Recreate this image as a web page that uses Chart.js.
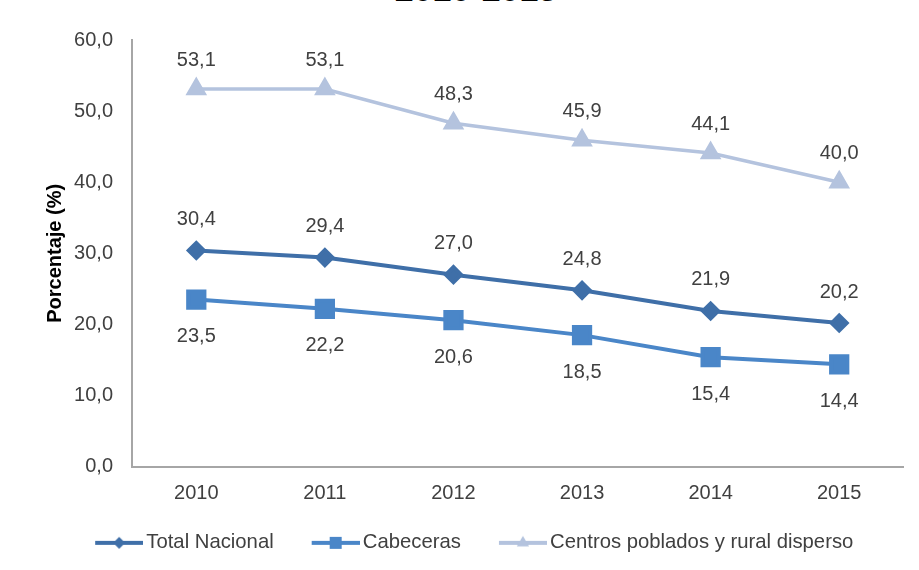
<!DOCTYPE html>
<html>
<head>
<meta charset="utf-8">
<script src="https://cdn.jsdelivr.net/npm/chart.js@4.4.0/dist/chart.umd.min.js"></script>
<style>
html, body { margin: 0; padding: 0; background: #fff; overflow: hidden; }
#wrap { position: relative; width: 919px; height: 570px; overflow: hidden; }
#title { position: absolute; left: 0; width: 952px; top: -28px; text-align: center;
  font: bold 34px "Liberation Sans", Arial, sans-serif; line-height: 34px; color: #000; }
canvas { position: absolute; left: 0; top: 0; }
</style>
</head>
<body>
<div id="wrap">
<div id="title">2010-2015</div>
<canvas id="chart" width="919" height="570"></canvas>
</div>
<script>
// ---------------- DATA ----------------
const years = ["2010", "2011", "2012", "2013", "2014", "2015"];
const totalNacional = [30.4, 29.4, 27.0, 24.8, 21.9, 20.2];
const cabeceras = [23.5, 22.2, 20.6, 18.5, 15.4, 14.4];
const centrosPoblados = [53.1, 53.1, 48.3, 45.9, 44.1, 40.0];

const FONT = "'Liberation Sans', Arial, sans-serif";
const fmt = v => v.toFixed(1).replace(".", ",");

// legend icon: empty space on the left, then a short line with the marker in the middle
const ICON_GAP = 35;
function legendIcon(color, style, r) {
  const c = document.createElement("canvas");
  c.width = ICON_GAP + 48; c.height = 20;
  const g = c.getContext("2d");
  const cx = ICON_GAP + 24;
  g.strokeStyle = color; g.lineWidth = 4;
  g.beginPath(); g.moveTo(ICON_GAP, 10); g.lineTo(ICON_GAP + 48, 10); g.stroke();
  g.fillStyle = color;
  g.beginPath();
  if (style === "rectRot") {
    g.moveTo(cx - r, 10); g.lineTo(cx, 10 - r); g.lineTo(cx + r, 10); g.lineTo(cx, 10 + r);
  } else if (style === "rect") {
    g.rect(cx - r, 10 - r, 2 * r, 2 * r);
  } else {
    g.moveTo(cx, 10 - r); g.lineTo(cx + r * 0.87, 10 + r * 0.5); g.lineTo(cx - r * 0.87, 10 + r * 0.5);
  }
  g.closePath(); g.fill();
  return c;
}

// value labels above / below the points
const valueLabels = {
  id: "valueLabels",
  afterDatasetsDraw(chart) {
    const ctx = chart.ctx;
    ctx.save();
    ctx.font = "20px " + FONT;
    ctx.fillStyle = "#404040";
    ctx.textAlign = "center";
    ctx.textBaseline = "middle";
    chart.data.datasets.forEach((ds, i) => {
      const meta = chart.getDatasetMeta(i);
      meta.data.forEach((pt, j) => {
        ctx.fillText(fmt(ds.data[j]), pt.x, pt.y + ds.labelOffset);
      });
    });
    ctx.restore();
  }
};

const datasets = [
  { label: "Total Nacional", data: totalNacional, borderColor: "#3F6FA8", backgroundColor: "#3F6FA8",
    borderWidth: 4, pointStyle: "rectRot", pointRadius: 7.5, labelOffset: -31,
    icon: legendIcon("#3F6FA8", "rectRot", 6) },
  { label: "Cabeceras", data: cabeceras, borderColor: "#4A86C8", backgroundColor: "#4A86C8",
    borderWidth: 4, pointStyle: "rect", pointRadius: 11.5, labelOffset: 37,
    icon: legendIcon("#4A86C8", "rect", 6) },
  { label: "Centros poblados y rural disperso", data: centrosPoblados, borderColor: "#B4C3DE", backgroundColor: "#B4C3DE",
    borderWidth: 3.5, pointStyle: "triangle", pointRadius: 9, labelOffset: -29,
    icon: legendIcon("#B4C3DE", "triangle", 7) }
];

const chart = new Chart(document.getElementById("chart"), {
  type: "line",
  data: { labels: years, datasets: datasets },
  plugins: [valueLabels],
  options: {
    responsive: false,
    animation: false,
    layout: { padding: { left: 35, right: 11, top: 40, bottom: 7 } },
    plugins: {
      tooltip: { enabled: false },
      legend: {
        position: "bottom",
        labels: {
          usePointStyle: true,
          pointStyleWidth: 69,
          padding: 10,
          color: "#404040",
          font: { family: FONT, size: 20.3 },
          generateLabels(ch) {
            const n = ch.data.datasets.length;
            return ch.data.datasets.map((ds, i) => ({
              text: ds.label + (i === n - 1 ? "    " : ""), pointStyle: ds.icon, fontColor: "#404040",
              datasetIndex: i, lineWidth: 0, strokeStyle: "transparent", fillStyle: "transparent"
            }));
          }
        }
      }
    },
    scales: {
      x: {
        offset: true,
        grid: { display: false, drawTicks: false },
        border: { display: true, color: "#A6A6A6", width: 2 },
        ticks: { color: "#404040", padding: 15, font: { family: FONT, size: 20 } },
        afterFit(s) { s.height = 56; }
      },
      y: {
        min: 0, max: 60,
        grid: { display: false, drawTicks: false },
        border: { display: true, color: "#A6A6A6", width: 2 },
        ticks: { stepSize: 10, color: "#404040", padding: 19, font: { family: FONT, size: 20 },
          callback: v => fmt(v) },
        title: { display: true, text: "Porcentaje (%)", color: "#000",
          font: { family: FONT, size: 20, weight: "bold" }, padding: { top: 8, bottom: 0 } },
        afterFit(s) { s.width = 97; }
      }
    }
  }
});
</script>
</body>
</html>
